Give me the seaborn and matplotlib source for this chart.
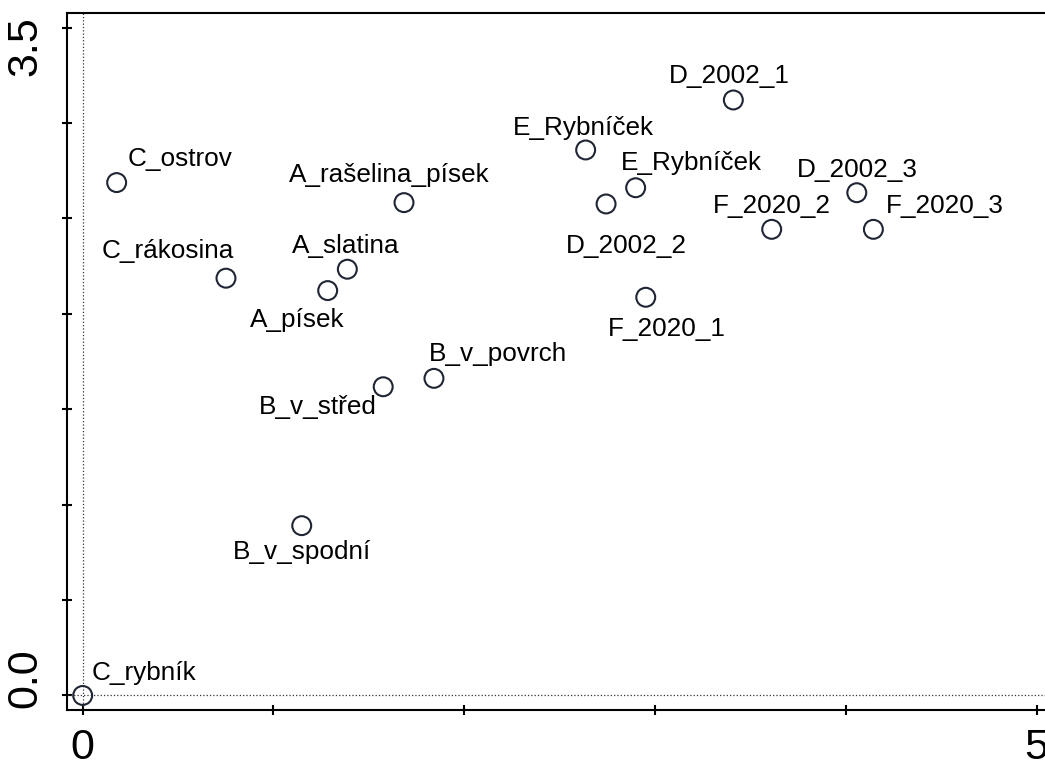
import numpy as np
import pandas as pd
import seaborn as sns
import matplotlib
matplotlib.use("Agg")
import matplotlib.pyplot as plt
from matplotlib.transforms import ScaledTranslation

# site scores (axis 1, axis 2)
sites = ["C_rybník", "C_ostrov", "C_rákosina", "A_slatina", "A_písek",
         "A_rašelina_písek", "B_v_povrch", "B_v_střed", "B_v_spodní",
         "E_Rybníček", "E_Rybníček", "D_2002_2", "F_2020_1", "D_2002_1",
         "D_2002_3", "F_2020_2", "F_2020_3"]
axis1 = [0.000, 0.178, 0.751, 1.387, 1.284, 1.684, 1.841, 1.575, 1.148,
         2.636, 2.898, 2.743, 2.951, 3.410, 4.057, 3.611, 4.144]
axis2 = [0.000, 2.688, 2.187, 2.234, 2.122, 2.583, 1.662, 1.618, 0.890,
         2.859, 2.661, 2.576, 2.087, 3.121, 2.635, 2.443, 2.443]

# label placement (pixel offset of the text's left/baseline from the point)
label_dx = [9, 11, -124, -55, -78, -115, -5, -124, -69,
            -73, -15, -40, -38, -64, -60, -59, 12]
label_dy = [15, 17, 20, 16, -36, 21, 17, -27, -33,
            15, 18, -49, -39, 17, 16, 16, 16]

df = pd.DataFrame({"site": sites, "x": axis1, "y": axis2})

sns.set_style("ticks")
plt.rcParams["font.family"] = ["Liberation Sans", "DejaVu Sans"]

fig = plt.figure(figsize=(10.45, 7.63), dpi=100)
ax = fig.add_axes([0.0641, 0.0695, 0.943, 0.9135])

col = "#1f2533"
sns.scatterplot(data=df, x="x", y="y", ax=ax, s=185, marker="o", zorder=3)
pts = ax.collections[-1]
pts.set_facecolor("none")
pts.set_edgecolor(col)
pts.set_linewidth(1.5)

ax.axhline(0, ls=":", lw=0.9, color="#333333", zorder=1)
ax.axvline(0, ls=":", lw=0.9, color="#333333", zorder=1)

for name, x, y, dx, dy in zip(sites, axis1, axis2, label_dx, label_dy):
    ax.annotate(name, (x, y), xytext=(dx, dy), textcoords="offset pixels",
                ha="left", va="baseline", fontsize=18.8, color="black")

ax.set_xlim(-0.0823, 5.0823)
ax.set_ylim(-0.076, 3.577)

xt = np.arange(0, 5.01, 1)
yt = np.arange(0, 3.51, 0.5)
ax.set_xticks(xt)
ax.set_xticklabels(["0", "", "", "", "", "5"])
ax.set_yticks(yt)
ax.set_yticklabels(["0.0", "", "", "", "", "", "", "3.5"], rotation=90, va="center")
ax.tick_params(axis="both", direction="inout", length=7.5, width=1.5,
               labelsize=31, colors="black")
ax.tick_params(axis="x", pad=9)
ax.tick_params(axis="y", pad=12)
ax.set_xlabel("")
ax.set_ylabel("")
for sp in ax.spines.values():
    sp.set_visible(True)
    sp.set_linewidth(1.5)
    sp.set_color("black")

# end labels on the y axis sit pulled inward from their ticks
ylabs = ax.get_yticklabels()
ylabs[0].set_transform(ylabs[0].get_transform() + ScaledTranslation(0, 0.17, fig.dpi_scale_trans))
ylabs[-1].set_transform(ylabs[-1].get_transform() + ScaledTranslation(0, -0.18, fig.dpi_scale_trans))

fig.savefig("out.png", dpi=100)
